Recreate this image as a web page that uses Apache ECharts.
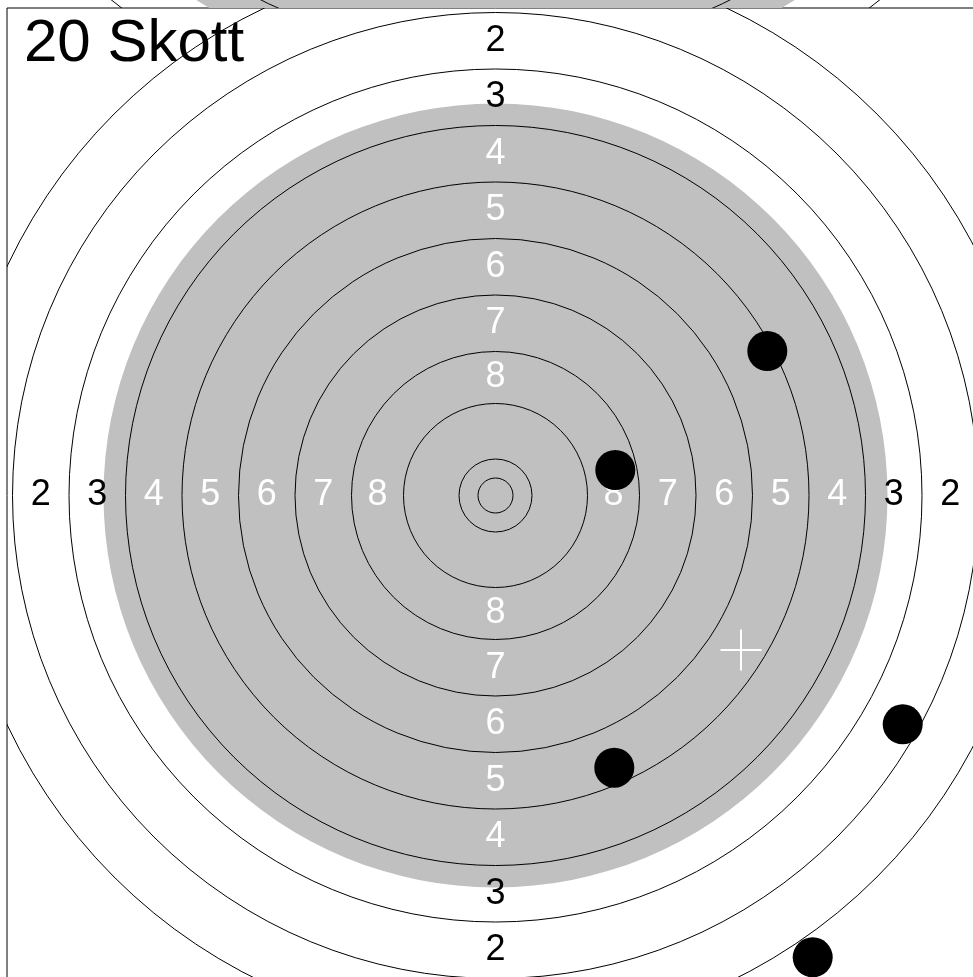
<!DOCTYPE html>
<html>
<head>
<meta charset="utf-8">
<title>20 Skott</title>
<script src="https://cdn.jsdelivr.net/npm/echarts@6/dist/echarts.min.js"></script>
<style>
  html, body { margin: 0; padding: 0; background: #fff; overflow: hidden; }
  /* the plot runs past the window on the right and bottom, as in the original crop */
  #main { width: 1000px; height: 1000px; }
</style>
</head>
<body>
<div id="main"></div>
<script>
// target geometry, units ~ 1 px of the main plot, centre at 0,0
var ringNames = ['X', '10', '9', '8', '7', '6', '5', '4', '3', '2', '1'];
var ringRadii = [17.5, 36.5, 92, 144, 200.5, 257, 313.5, 370, 426.5, 483, 539.5];
var grayRadius = 392;
var labelRings = [8, 7, 6, 5, 4, 3, 2];

// hits (x right, y up) and the marked mean point
var shotX = [271.8, 119.8, 118.8, 407.2, 317.2];
var shotY = [144.5, 25.5, -272.2, -228.8, -461.8];
var meanPoint = [245.5, -154.5];

var titleText = '20 Skott';

var myChart = echarts.init(document.getElementById('main'));

function circleItem(fill, stroke) {
    return function (params, api) {
        var c = api.coord([0, 0]);
        var r = api.size([api.value(0), 0])[0];
        return {
            type: 'circle',
            shape: { cx: c[0], cy: c[1], r: r },
            style: { fill: fill, stroke: stroke, lineWidth: 1 }
        };
    };
}

var ringData = ringRadii.map(function (r) { return [r, 0]; });

// label n sits in the middle of its ring
var labelData = [];
labelRings.forEach(function (n) {
    var i = ringNames.indexOf(String(n));
    var d = (ringRadii[i] + ringRadii[i - 1]) / 2;
    [[0, d], [0, -d], [-d, 0], [d, 0]].forEach(function (p) {
        labelData.push([p[0], p[1], n]);
    });
});

var shotData = shotX.map(function (x, i) { return [x, shotY[i]]; });

var option = {
    animation: false,
    backgroundColor: '#fff',
    title: {
        text: titleText,
        left: 24,
        top: 14,
        padding: 0,
        textStyle: { fontSize: 60, fontWeight: 'normal', fontFamily: 'Liberation Sans, Arial, sans-serif', color: '#000' }
    },
    grid: [
        { left: 7, top: 8, width: 977, height: 975, show: true, borderColor: '#000', borderWidth: 1, backgroundColor: 'transparent' },
        // bottom sliver of the neighbouring, larger-scale plot above
        { left: 7, top: 0, width: 977, height: 8, show: false }
    ],
    xAxis: [
        { type: 'value', gridIndex: 0, min: -488.5, max: 488.5, show: false },
        { type: 'value', gridIndex: 1, min: -340.65, max: 340.65, show: false }
    ],
    yAxis: [
        { type: 'value', gridIndex: 0, min: -487.5, max: 487.5, show: false },
        { type: 'value', gridIndex: 1, min: -337.5, max: -331.92, show: false }
    ],
    series: [
        {
            type: 'custom', xAxisIndex: 1, yAxisIndex: 1, clip: true, z: 1,
            renderItem: circleItem('#c0c0c0', null),
            data: [[grayRadius, 0]]
        },
        {
            type: 'custom', xAxisIndex: 1, yAxisIndex: 1, clip: true, z: 2,
            renderItem: circleItem(null, '#000'),
            data: ringData
        },
        {
            type: 'custom', xAxisIndex: 0, yAxisIndex: 0, clip: true, z: 1,
            renderItem: circleItem('#c0c0c0', null),
            data: [[grayRadius, 0]]
        },
        {
            type: 'custom', xAxisIndex: 0, yAxisIndex: 0, clip: true, z: 2,
            renderItem: circleItem(null, '#000'),
            data: ringData
        },
        {
            type: 'custom', xAxisIndex: 0, yAxisIndex: 0, z: 3,
            renderItem: function (params, api) {
                var p = api.coord([api.value(0), api.value(1)]);
                var n = api.value(2);
                return {
                    type: 'text',
                    x: p[0], y: p[1],
                    style: {
                        text: String(n),
                        fill: n >= 4 ? '#fff' : '#000',
                        font: '36px "Liberation Sans", Arial, sans-serif',
                        align: 'center',
                        verticalAlign: 'middle'
                    }
                };
            },
            data: labelData
        },
        {
            type: 'scatter', xAxisIndex: 0, yAxisIndex: 0, z: 4,
            symbol: 'circle', symbolSize: 40,
            itemStyle: { color: '#000', opacity: 1 },
            data: shotData
        },
        {
            type: 'custom', xAxisIndex: 0, yAxisIndex: 0, z: 5,
            renderItem: function (params, api) {
                var p = api.coord([api.value(0), api.value(1)]);
                var h = 20.5;
                return {
                    type: 'group',
                    children: [
                        { type: 'line', shape: { x1: p[0] - h, y1: p[1], x2: p[0] + h, y2: p[1] }, style: { stroke: '#fff', lineWidth: 2 } },
                        { type: 'line', shape: { x1: p[0], y1: p[1] - h, x2: p[0], y2: p[1] + h }, style: { stroke: '#fff', lineWidth: 2 } }
                    ]
                };
            },
            data: [meanPoint]
        }
    ]
};

myChart.setOption(option);
</script>
</body>
</html>
